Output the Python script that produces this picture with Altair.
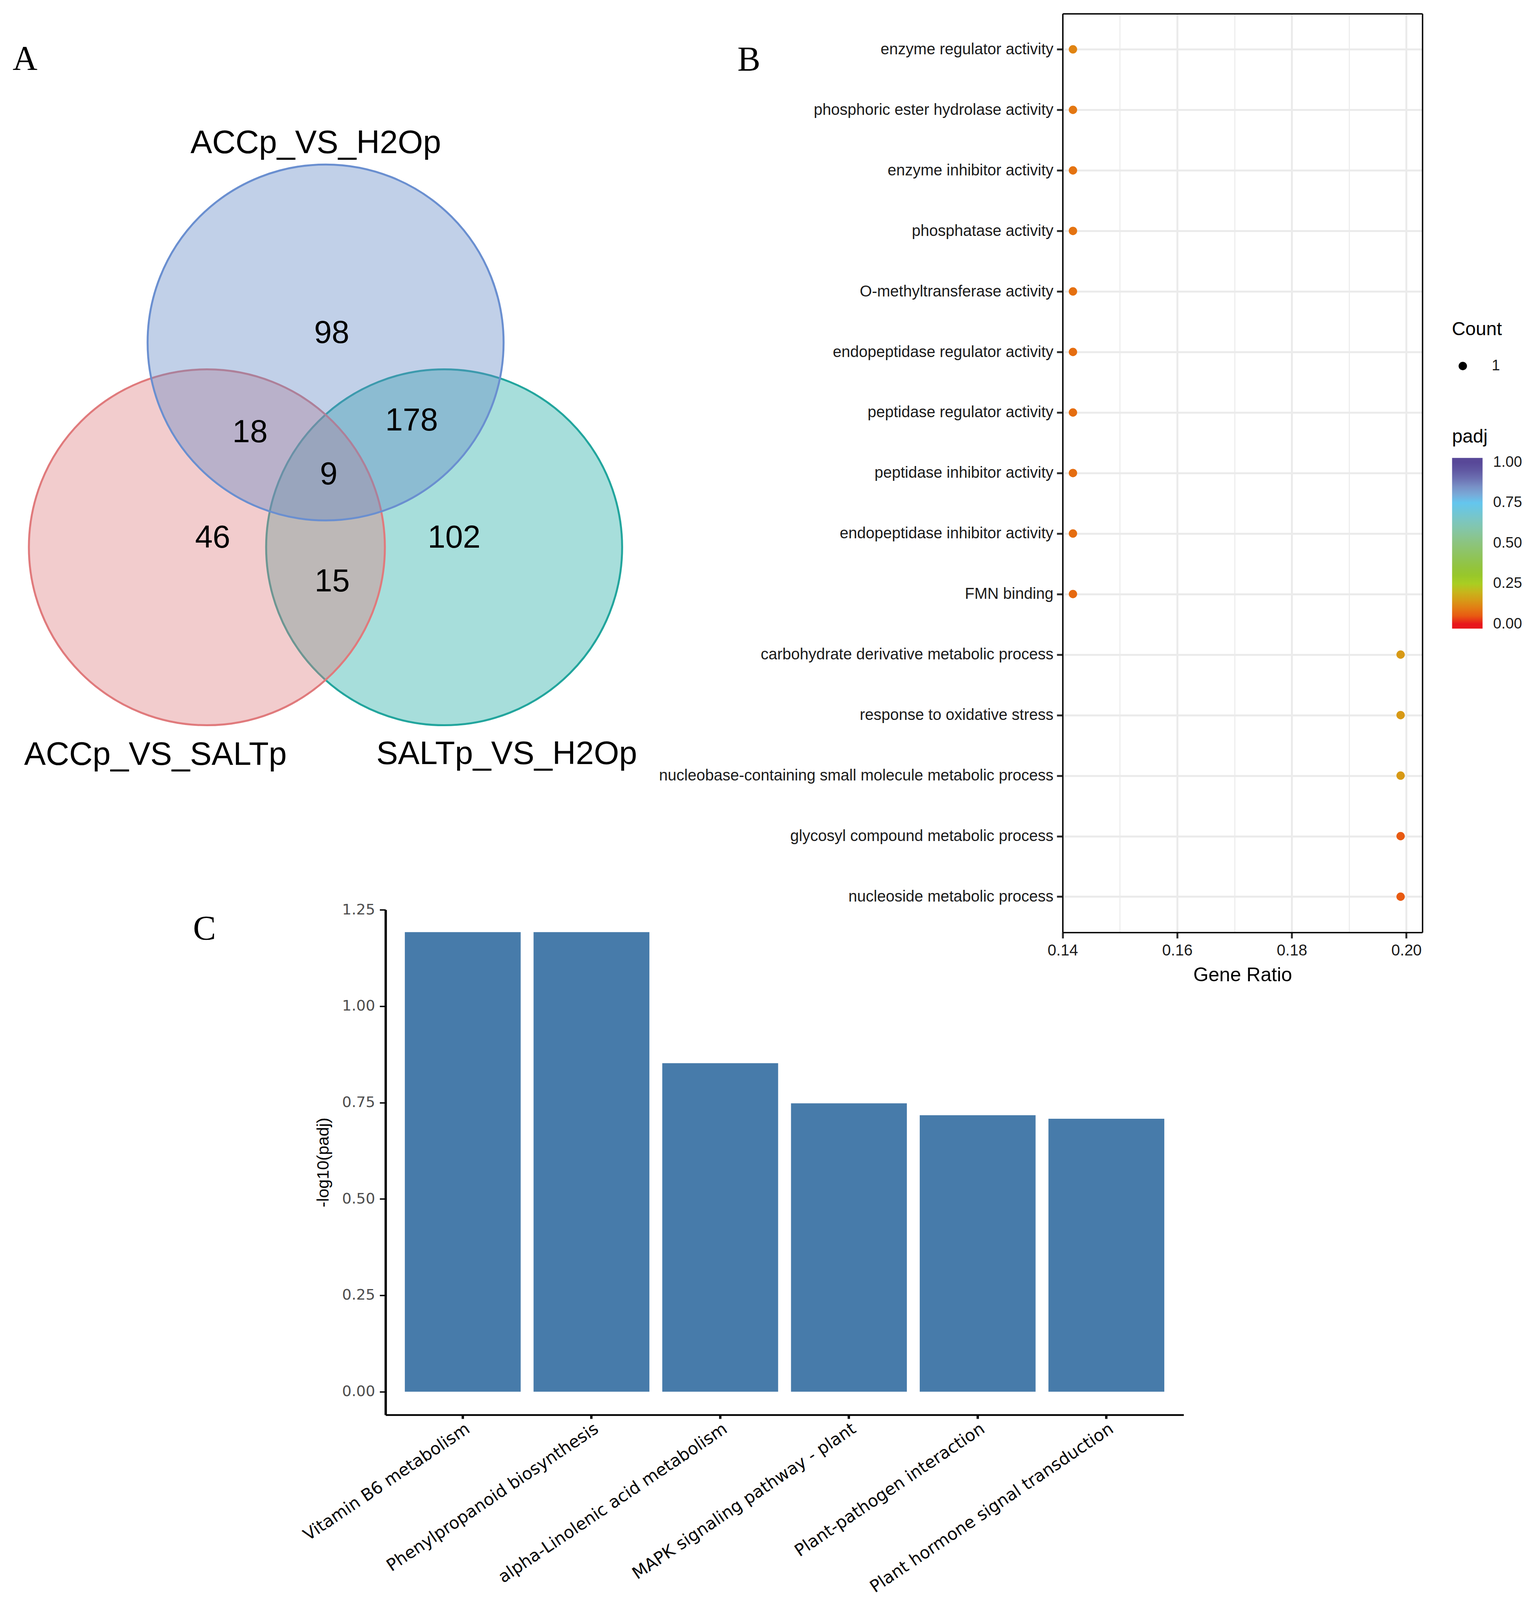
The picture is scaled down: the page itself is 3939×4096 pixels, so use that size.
import math
import altair as alt
import pandas as pd

# ---------------- data ----------------
# Panel A: Venn diagram (geometry in circle-radius units)
venn_sets = ["SALTp_VS_H2Op", "ACCp_VS_SALTp", "ACCp_VS_H2Op"]
venn_cx = [0.666, -0.667, 0.0]
venn_cy = [0.0, 0.0, 1.151]
venn_label_x = [1.0175, -0.956, -0.0552]
venn_label_y = [-1.219, -1.222, 2.214]
venn_fill = ["#23ACA5", "#DE7F82", "#6489C5"]
venn_stroke = ["#22A59D", "#E07A7C", "#6A8FD0"]

region_counts = [98, 18, 178, 9, 46, 102, 15]
region_x = [0.0343, -0.4246, 0.4835, 0.0176, -0.6345, 0.722, 0.0371]
region_y = [1.2115, 0.6533, 0.7197, 0.4167, 0.0613, 0.0613, -0.1851]

# Panel B: GO enrichment dot plot
go_terms = [
    "enzyme regulator activity",
    "phosphoric ester hydrolase activity",
    "enzyme inhibitor activity",
    "phosphatase activity",
    "O-methyltransferase activity",
    "endopeptidase regulator activity",
    "peptidase regulator activity",
    "peptidase inhibitor activity",
    "endopeptidase inhibitor activity",
    "FMN binding",
    "carbohydrate derivative metabolic process",
    "response to oxidative stress",
    "nucleobase-containing small molecule metabolic process",
    "glycosyl compound metabolic process",
    "nucleoside metabolic process",
]
go_gene_ratio = [0.1418, 0.1418, 0.1418, 0.1418, 0.1418, 0.1418, 0.1418, 0.1418,
                 0.1418, 0.1418, 0.199, 0.199, 0.199, 0.199, 0.199]
go_padj = [0.11, 0.09, 0.085, 0.085, 0.08, 0.075, 0.075, 0.075, 0.075, 0.07,
           0.145, 0.145, 0.145, 0.05, 0.05]
go_count = [1, 1, 1, 1, 1, 1, 1, 1, 1, 1, 1, 1, 1, 1, 1]
b_major_ticks = [0.14, 0.16, 0.18, 0.20]
b_minor_ticks = [0.15, 0.17, 0.19]
padj_ticks = [0.0, 0.25, 0.5, 0.75, 1.0]
padj_stops = [-0.028, 0.0, 0.05, 0.10, 0.15, 0.20, 0.25, 0.30, 0.35, 0.40, 0.45, 0.50,
              0.55, 0.60, 0.65, 0.70, 0.75, 0.80, 0.85, 0.90, 0.95, 1.0, 1.028]
padj_colors = ["#E8161C", "#E8161C", "#E85A12", "#E27D14", "#D69C17", "#C6B61C",
               "#A9CE22", "#98C72A", "#93C43C", "#90C452", "#8EC468", "#8CC47E",
               "#88C596", "#82C6AE", "#7AC6C4", "#6EC6DA", "#64C6EE", "#78AAD8",
               "#7890C6", "#6C70B2", "#6058A2", "#584898", "#584898"]

# Panel C: KEGG bar chart
kegg_pathways = [
    "Vitamin B6 metabolism",
    "Phenylpropanoid biosynthesis",
    "alpha-Linolenic acid metabolism",
    "MAPK signaling pathway - plant",
    "Plant-pathogen interaction",
    "Plant hormone signal transduction",
]
kegg_values = [1.192, 1.192, 0.852, 0.748, 0.717, 0.708]
c_y_ticks = [0.0, 0.25, 0.5, 0.75, 1.0, 1.25]

# ---------------- layout helpers ----------------
W, H = 3923, 4080
FONT = "Liberation Sans"


def P(v):
    """full-size reference pixel -> chart pixel"""
    return v * 0.898 - 8


# ---------------- panel A ----------------
venn_df = pd.DataFrame({"set": venn_sets, "cx": venn_cx, "cy": venn_cy,
                        "lx": venn_label_x, "ly": venn_label_y})
region_df = pd.DataFrame({"n": region_counts, "x": region_x, "y": region_y})

vx = alt.Scale(domain=[-1, 1], range=[P(420.7), P(1435.3)], nice=False, zero=False)
vy = alt.Scale(domain=[-1, 1], range=[P(2067.5), P(1052.9)], nice=False, zero=False)
r_px = 507.3 * 0.898
circle_size = (2 * r_px) ** 2  # Vega symbol size = bounding-box area

circles = alt.Chart(venn_df).mark_circle(opacity=1, fillOpacity=0.4, strokeOpacity=1,
                                         strokeWidth=5).encode(
    x=alt.X("cx:Q", scale=vx, axis=None),
    y=alt.Y("cy:Q", scale=vy, axis=None),
    fill=alt.Fill("set:N", scale=alt.Scale(domain=venn_sets, range=venn_fill), legend=None),
    stroke=alt.Stroke("set:N", scale=alt.Scale(domain=venn_sets, range=venn_stroke), legend=None),
    size=alt.value(circle_size),
)

nums = alt.Chart(region_df).mark_text(font=FONT, fontSize=81, color="black",
                                      baseline="middle", align="center", dy=5).encode(
    x=alt.X("x:Q", scale=vx, axis=None),
    y=alt.Y("y:Q", scale=vy, axis=None),
    text=alt.Text("n:Q", format="d"),
)

set_labels = alt.Chart(venn_df).mark_text(font=FONT, fontSize=83, color="black",
                                          baseline="alphabetic", align="center").encode(
    x=alt.X("lx:Q", scale=vx, axis=None),
    y=alt.Y("ly:Q", scale=vy, axis=None),
    text="set:N",
)

# ---------------- panel B ----------------
go_df = pd.DataFrame({"term": go_terms, "ratio": go_gene_ratio, "padj": go_padj,
                      "Count": go_count})
BX0, BX1, BY0, BY1 = P(3028.7), P(4054), P(38.9), P(2658)
bx = alt.Scale(domain=[0.14, 0.2028], range=[BX0, BX1], nice=False, zero=False)
by = alt.Scale(type="point", domain=go_terms, range=[BY0, BY1], padding=0.59)

b_minor = alt.Chart(go_df).mark_circle(opacity=0).encode(
    x=alt.X("ratio:Q", scale=bx, axis=alt.Axis(
        orient="top", offset=-BY0, values=b_minor_ticks, labels=False, ticks=False,
        domain=False, grid=True, gridColor="#EBEBEB", gridWidth=2.5, title=None)),
    y=alt.Y("term:N", scale=by, axis=None),
)

b_points = alt.Chart(go_df).mark_circle(opacity=1).encode(
    x=alt.X("ratio:Q", scale=bx, axis=alt.Axis(
        orient="top", offset=-BY0, values=b_major_ticks, labels=False, ticks=False,
        domain=True, domainColor="black", domainWidth=3.5, grid=True,
        gridColor="#EBEBEB", gridWidth=5, title=None)),
    y=alt.Y("term:N", scale=by, axis=alt.Axis(
        orient="left", offset=-BX0, labelFont=FONT, labelFontSize=40, labelColor="#1A1A1A",
        labelPadding=9, labelLimit=3000, labelOverlap=False, tickSize=15, tickWidth=5,
        tickColor="#333333", domain=True, domainColor="black", domainWidth=3.5,
        grid=True, gridColor="#EBEBEB", gridWidth=5, title=None)),
    color=alt.Color("padj:Q", scale=alt.Scale(domain=padj_stops, range=padj_colors,
                                               nice=False, zero=False),
                    legend=alt.Legend(
                        title="padj", orient="none", legendX=P(4138.7), legendY=P(1224) - 4,
                        direction="vertical", gradientLength=437, gradientThickness=78,
                        gradientStrokeWidth=0, values=padj_ticks, format=".2f",
                        titleFont=FONT, titleFontSize=48, titleFontWeight="normal",
                        titleColor="black", titlePadding=29, labelFont=FONT,
                        labelFontSize=38, labelColor="#1A1A1A", labelOffset=27,
                        padding=0)),
    size=alt.Size("Count:O", scale=alt.Scale(range=[460, 460]), legend=alt.Legend(
        title="Count", orient="none", legendX=P(4138), legendY=P(912) + 1,
        titleFont=FONT, titleFontSize=48, titleFontWeight="normal", titleColor="black",
        titlePadding=50, labelFont=FONT, labelFontSize=38, labelColor="#1A1A1A",
        symbolType="circle", symbolFillColor="black", symbolStrokeColor="black",
        symbolStrokeWidth=0, symbolOffset=9, labelOffset=55, padding=0)),
)

b_frame = alt.Chart(go_df).mark_circle(opacity=0).encode(
    x=alt.X("ratio:Q", scale=bx, axis=alt.Axis(
        orient="bottom", offset=BY1 - H, values=b_major_ticks, format=".2f",
        labelFont=FONT, labelFontSize=40, labelColor="#1A1A1A", labelPadding=12,
        labelFlush=False, labelOverlap=False, tickSize=15, tickWidth=5,
        tickColor="#333333", domain=True, domainColor="black", domainWidth=3.5,
        grid=False, title="Gene Ratio", titleFont=FONT, titleFontSize=50,
        titleFontWeight="normal", titleColor="black", titlePadding=18)),
    y=alt.Y("term:N", scale=by, axis=alt.Axis(
        orient="right", offset=BX1 - W, labels=False, ticks=False, domain=True,
        domainColor="black", domainWidth=3.5, grid=False, title=None)),
)

# ---------------- panel C ----------------
kegg_df = pd.DataFrame({"pathway": kegg_pathways, "value": kegg_values})
CX0, CX1, CYT, CYB = P(1098.8), P(3373.5), P(2593.6), P(4033.3)
cxs = alt.Scale(type="band", domain=kegg_pathways, range=[CX0, CX1],
                paddingInner=0.1, paddingOuter=0.15)
cys = alt.Scale(domain=[-0.06, 1.25], range=[CYB, CYT], nice=False, zero=False)

c_bars = alt.Chart(kegg_df).mark_bar(color="#477BAA").encode(
    x=alt.X("pathway:N", scale=cxs, sort=None, axis=alt.Axis(
        orient="bottom", offset=CYB - H, labelAngle=326, labelAlign="right",
        labelBaseline="top", labelFont="DejaVu Sans", labelFontSize=43,
        labelColor="black", labelPadding=4, labelOffset=2, labelLimit=3000,
        labelOverlap=False, tickSize=10, tickWidth=6, tickColor="black",
        domain=True, domainColor="black", domainWidth=4.5, grid=False, title=None)),
    y=alt.Y("value:Q", scale=cys, axis=alt.Axis(
        orient="left", offset=-CX0, values=c_y_ticks, format=".2f",
        labelFont="DejaVu Sans", labelFontSize=38, labelColor="#4D4D4D",
        labelPadding=12, labelOverlap=False, labelFlush=False, tickSize=15,
        tickWidth=3.5, tickColor="black", domain=True, domainColor="black",
        domainWidth=6, grid=False, title="-log10(padj)", titleFont=FONT,
        titleFontSize=43, titleFontWeight="normal", titleColor="black",
        titlePadding=26)),
    y2=alt.datum(0),
)


# ---------------- panel letters ----------------
def letter(t, x, y):
    return alt.Chart(pd.DataFrame({"t": [t]})).mark_text(
        font="Liberation Serif", fontSize=88, color="black", align="left",
        baseline="alphabetic").encode(x=alt.value(x), y=alt.value(y), text="t:N")


letter_a = letter("A", P(36), P(198))
letter_b = letter("B", P(2102), P(200))
letter_c = letter("C", P(550), P(2678))

chart = alt.layer(
    circles, nums, set_labels, b_minor, b_points, b_frame, c_bars,
    letter_a, letter_b, letter_c,
).resolve_scale(
    x="independent", y="independent", color="independent", size="independent",
    fill="independent", stroke="independent",
).resolve_axis(
    x="independent", y="independent",
).resolve_legend(
    color="independent", size="independent",
).properties(
    width=W, height=H, autosize=alt.AutoSizeParams(type="none"), padding=0,
    background="white",
).configure_view(strokeWidth=0)

chart.save("out.html", embed_options={"renderer": "svg", "actions": False})
